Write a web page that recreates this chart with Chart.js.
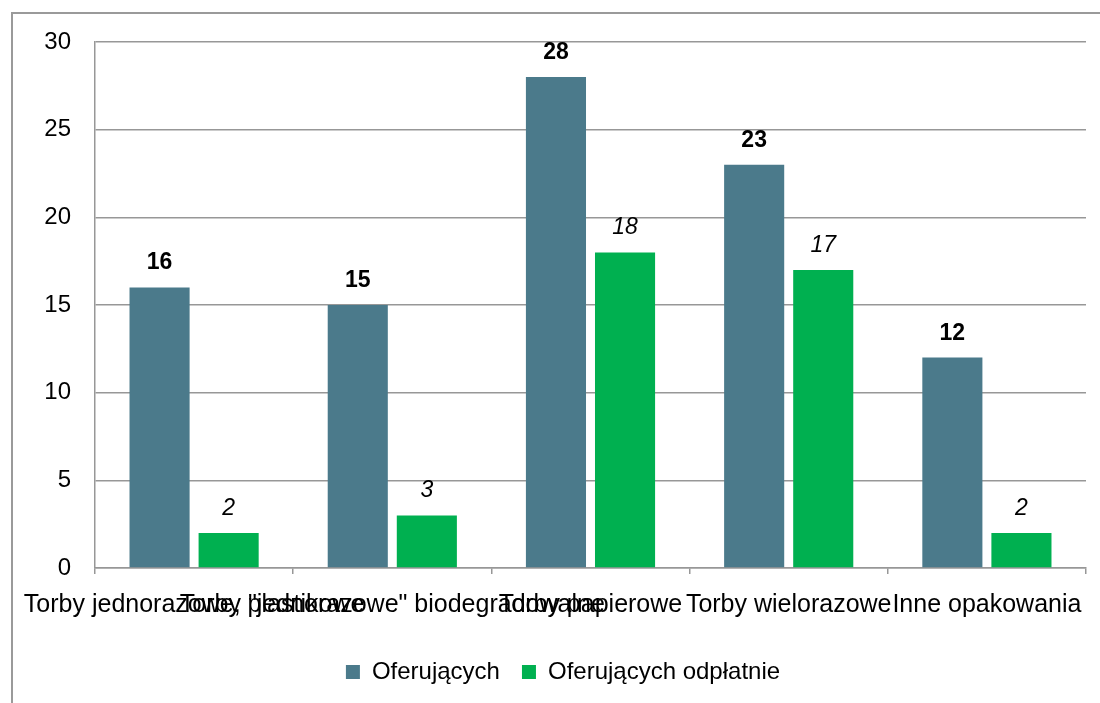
<!DOCTYPE html>
<html lang="pl">
<head>
<meta charset="utf-8">
<script src="https://cdn.jsdelivr.net/npm/chart.js@4.4.1/dist/chart.umd.min.js"></script>
<style>
  html, body { margin: 0; padding: 0; background: #fff; overflow: hidden; }
  #wrap { width: 1100px; height: 703px; }
</style>
</head>
<body>
<div id="wrap"><canvas id="bagsChart"></canvas></div>
<script>
// Rodzaje opakowań i liczba sklepów
const categories = ['Torby jednorazowe, plastikowe', 'Torby "jednorazowe" biodegradowalne', 'Torby papierowe', 'Torby wielorazowe', 'Inne opakowania'];
const offering = [16, 15, 28, 23, 12];
const offeringPaid = [2, 3, 18, 17, 2];
const yMin = 0, yMax = 30, yStep = 5;

const FONT = "'Liberation Sans', Arial, sans-serif";
const GRID = '#979797';

// ramka wokół wykresu
const framePlugin = {
  id: 'frame',
  beforeDraw(chart) {
    const ctx = chart.ctx;
    ctx.save();
    ctx.strokeStyle = '#9a9a9a';
    ctx.lineWidth = 2;
    ctx.beginPath();
    ctx.moveTo(12, 703);
    ctx.lineTo(12, 13);
    ctx.lineTo(1100, 13);
    ctx.stroke();
    ctx.restore();
  }
};

// wartości nad słupkami: pogrubione dla pierwszej serii, kursywa dla drugiej
const valueLabels = {
  id: 'valueLabels',
  afterDatasetsDraw(chart) {
    const ctx = chart.ctx;
    ctx.save();
    ctx.fillStyle = '#000';
    ctx.textAlign = 'center';
    ctx.textBaseline = 'alphabetic';
    chart.data.datasets.forEach((ds, i) => {
      const meta = chart.getDatasetMeta(i);
      ctx.font = (i === 0 ? 'bold ' : 'italic ') + '23px ' + FONT;
      meta.data.forEach((bar, j) => {
        ctx.fillText(String(ds.data[j]), bar.x, bar.y - 18);
      });
    });
    ctx.restore();
  }
};

const ctxBags = document.getElementById('bagsChart').getContext('2d');
const bagsChart = new Chart(ctxBags, {
  type: 'bar',
  data: {
    labels: categories,
    datasets: [{
      label: 'Oferujących',
      data: offering,
      backgroundColor: '#4b7a8b',
      categoryPercentage: 0.697,
      barPercentage: 0.87
    }, {
      label: 'Oferujących odpłatnie',
      data: offeringPaid,
      backgroundColor: '#00b050',
      categoryPercentage: 0.697,
      barPercentage: 0.87
    }]
  },
  options: {
    responsive: true,
    maintainAspectRatio: false,
    animation: false,
    layout: {
      padding: { top: 42, left: 40, right: 14, bottom: 9 }
    },
    plugins: {
      tooltip: { enabled: false },
      legend: {
        position: 'bottom',
        labels: {
          boxWidth: 14,
          boxHeight: 14,
          padding: 22,
          color: '#000',
          font: { family: FONT, size: 24 }
        }
      }
    },
    scales: {
      x: {
        grid: {
          drawOnChartArea: false,
          drawTicks: true,
          tickLength: 6,
          color: GRID,
          lineWidth: 1.5
        },
        border: { color: GRID, width: 1.5 },
        ticks: {
          autoSkip: false,
          maxRotation: 0,
          minRotation: 0,
          padding: 16,
          color: '#000',
          font: { family: FONT, size: 25 }
        },
        afterFit(scale) {
          scale.height = 70;
          scale.paddingLeft = 0;
          scale.paddingRight = 0;
        }
      },
      y: {
        min: yMin,
        max: yMax,
        grid: {
          drawTicks: false,
          tickLength: 0,
          color: GRID,
          lineWidth: 1.5
        },
        border: { color: GRID, width: 1.5 },
        ticks: {
          stepSize: yStep,
          padding: 24,
          color: '#000',
          font: { family: FONT, size: 24 }
        },
        afterFit(scale) {
          scale.width = 55;
        }
      }
    }
  },
  plugins: [framePlugin, valueLabels]
});
</script>
</body>
</html>
